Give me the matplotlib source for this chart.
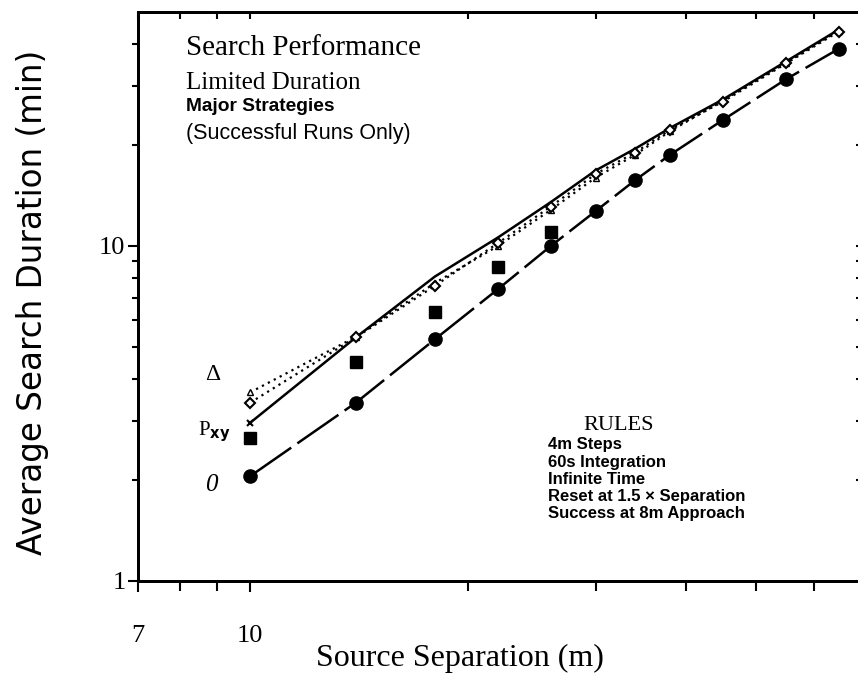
import matplotlib
matplotlib.use("Agg")
import matplotlib.pyplot as plt
from matplotlib.ticker import FixedLocator, NullFormatter, FixedFormatter

# ---- data ----
sep_all = [10, 14, 18, 22, 26, 30, 34, 38, 45, 55, 65]
theta_dur = [2.05, 3.4, 5.26, 7.43, 9.98, 12.7, 15.7, 18.7, 23.8, 31.5, 38.8]
sep_pxy = [10, 14, 18, 22, 26]
pxy_dur = [2.67, 4.5, 6.35, 8.67, 11.0]
delta_dur = [3.4, 5.33, 7.6, 10.2, 13.1, 16.4, 19.0, 22.2, 27.0, 35.1, 43.7]
delta2_dur = [3.65, 5.35, 7.75, 10.0, 12.8, 16.0, 18.7, 22.0, 27.2, 35.3, 44.0]
solid_dur = [2.96, 5.33, 8.1, 10.6, 13.5, 16.8, 19.5, 22.5, 27.4, 35.6, 44.3]

x_major = [7, 10]
x_minor = [8, 9, 20, 30, 40, 50, 60]
y_major = [1, 10]
y_minor = [2, 3, 4, 5, 6, 7, 8, 9, 20, 30, 40]

fig = plt.figure(figsize=(8.58, 6.74), dpi=100)
W, H = 858, 674
L, R, T, B = 138, 862, 12, 580.5
ax = fig.add_axes([L / W, (H - B) / H, (R - L) / W, (B - T) / H])
ax.set_xscale("log")
ax.set_yscale("log")
ax.set_xlim(7, 70)
ax.set_ylim(1, 50)

k = "black"
ax.plot(sep_all, theta_dur, color=k, lw=1.8, dashes=(20, 3), marker="o",
        ms=9.5, mfc=k, mec=k)
ax.plot(sep_pxy, pxy_dur, ls="none", marker="s", ms=8, color=k)
ax.plot(sep_all, solid_dur, color=k, lw=1.8, marker="x", ms=4, mew=1.5,
        markevery=[0])
ax.plot(sep_all, delta2_dur, color=k, lw=1.6, ls=(0, (1, 2)), marker="^",
        ms=4, mfc="white", mec=k, mew=1.0)
ax.plot(sep_all, delta_dur, color=k, lw=1.6, ls=(0, (1, 2)), marker="D",
        ms=5, mfc="white", mec=k, mew=1.5)

for s in ax.spines.values():
    s.set_linewidth(2)

serif = ["Liberation Serif", "DejaVu Serif"]
sans = ["Liberation Sans", "DejaVu Sans"]

ax.xaxis.set_major_locator(FixedLocator(x_major))
ax.xaxis.set_minor_locator(FixedLocator(x_minor))
ax.xaxis.set_major_formatter(FixedFormatter([str(v) for v in x_major]))
ax.xaxis.set_minor_formatter(NullFormatter())
ax.yaxis.set_major_locator(FixedLocator(y_major))
ax.yaxis.set_minor_locator(FixedLocator(y_minor))
ax.yaxis.set_major_formatter(FixedFormatter([str(v) for v in y_major]))
ax.yaxis.set_minor_formatter(NullFormatter())
ax.tick_params(axis="x", which="major", direction="out", length=8, width=1.5, pad=24)
ax.tick_params(axis="x", which="minor", direction="out", length=7, width=1.5)
ax.tick_params(axis="y", which="major", direction="out", length=7, width=1.5, pad=2)
ax.tick_params(axis="y", which="minor", direction="out", length=4, width=1.5)
for lab in ax.get_xticklabels() + ax.get_yticklabels():
    lab.set_fontfamily(serif)
    lab.set_fontsize(19)

# inward ticks on top and right
axt = ax.twiny()
axt.set_xscale("log")
axt.set_xlim(ax.get_xlim())
axt.xaxis.set_major_locator(FixedLocator(x_major))
axt.xaxis.set_minor_locator(FixedLocator(x_minor))
axt.xaxis.set_major_formatter(NullFormatter())
axt.xaxis.set_minor_formatter(NullFormatter())
axt.tick_params(axis="x", which="both", direction="in", length=5, width=1.5)
axr = ax.twinx()
axr.set_yscale("log")
axr.set_ylim(ax.get_ylim())
axr.yaxis.set_major_locator(FixedLocator(y_major))
axr.yaxis.set_minor_locator(FixedLocator(y_minor))
axr.yaxis.set_major_formatter(NullFormatter())
axr.yaxis.set_minor_formatter(NullFormatter())
axr.tick_params(axis="y", which="both", direction="in", length=4, width=1.5)
for a in (axt, axr):
    for s in a.spines.values():
        s.set_linewidth(2)

# axis titles placed at the reference's pixel positions
fig.text(460 / W, 1 - 658 / H, "Source Separation (m)", fontfamily=serif,
         fontsize=23, ha="center", va="center")
fig.text(33 / W, 1 - 302 / H, "Average Search Duration (min)",
         fontfamily=["DejaVu Sans"], fontsize=23.5, rotation=90,
         ha="center", va="center")

tr = ax.transAxes
ax.text(0.0663, 0.937, "Search Performance", transform=tr, fontfamily=serif,
        fontsize=21, va="center", ha="left")
ax.text(0.0663, 0.875, "Limited Duration", transform=tr, fontfamily=serif,
        fontsize=18, va="center", ha="left")
ax.text(0.0663, 0.833, "Major Strategies", transform=tr, fontfamily=sans,
        fontsize=13.8, fontweight="bold", va="center", ha="left")
ax.text(0.0663, 0.786, "(Successful Runs Only)", transform=tr, fontfamily=sans,
        fontsize=15.5, va="center", ha="left")

ax.text(0.664, 0.2735, "RULES", transform=tr, fontfamily=serif, fontsize=16,
        va="center", ha="center")
rules = ["4m Steps", "60s Integration", "Infinite Time",
         "Reset at 1.5 × Separation", "Success at 8m Approach"]
rule_y = [0.240, 0.2084, 0.1768, 0.1469, 0.117]
for txt, yy in zip(rules, rule_y):
    ax.text(0.566, yy, txt, transform=tr, fontfamily=sans, fontsize=12,
            fontweight="bold", va="center", ha="left")

ax.text(8.89, 4.13, "Δ", fontfamily=serif, fontsize=17, ha="center", va="center")
ax.text(8.91, 2.79, r"P$_{\mathbf{xy}}$", fontfamily=serif, fontsize=15,
        ha="center", va="center")
ax.text(8.83, 1.93, "0", fontfamily=serif, fontsize=18, style="italic",
        ha="center", va="center")

fig.savefig("out.png", dpi=100)
